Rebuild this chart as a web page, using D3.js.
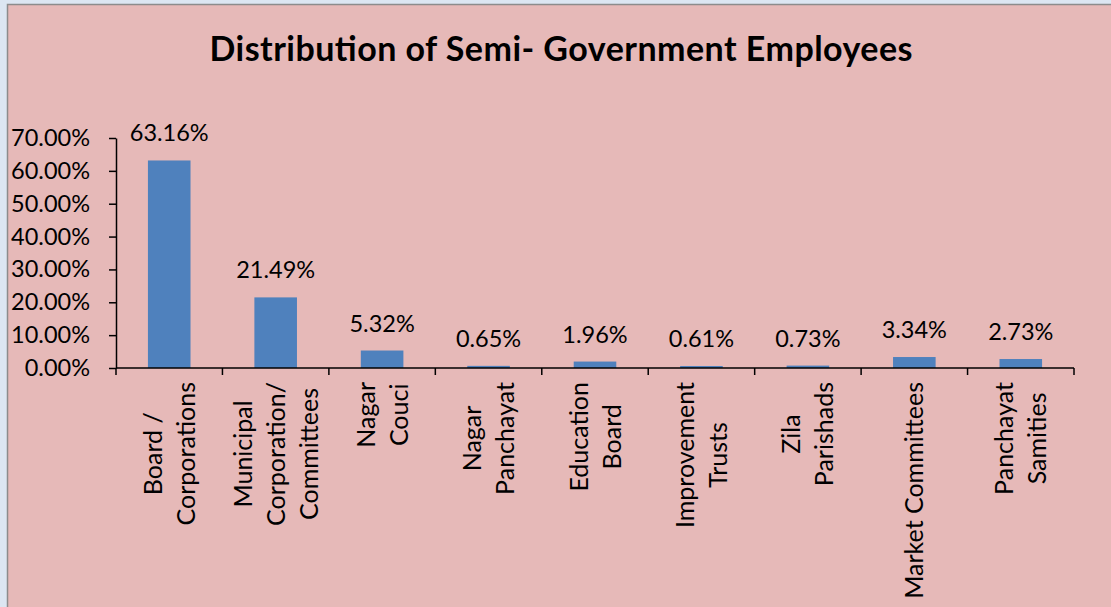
<!DOCTYPE html>
<html>
<head>
<meta charset="utf-8">
<script src="https://cdn.jsdelivr.net/npm/d3@7"></script>
<style>
  body { margin: 0; background: #dce6f2; }
  svg { display: block; font-family: Lato, "Open Sans", sans-serif; }
</style>
</head>
<body>
<svg width="1111" height="607"></svg>
<script>
// chart data
var categories = [
  ["Board /", "Corporations"],
  ["Municipal", "Corporation/", "Committees"],
  ["Nagar", "Couci"],
  ["Nagar", "Panchayat"],
  ["Education", "Board"],
  ["Improvement", "Trusts"],
  ["Zila", "Parishads"],
  ["Market Committees"],
  ["Panchayat", "Samities"]
];
var values = [0.6316, 0.2149, 0.0532, 0.0065, 0.0196, 0.0061, 0.0073, 0.0334, 0.0273];
var yTicks = [0, 0.1, 0.2, 0.3, 0.4, 0.5, 0.6, 0.7];
var title = "Distribution of Semi- Government Employees";

var svg = d3.select("svg"),
    margin = {left: 116, right: 37, top: 138, bottom: 239},
    width = 1111 - margin.left - margin.right,
    height = 607 - margin.top - margin.bottom;

var numSize = 23.5,  // tick + value labels
    catSize = 25;    // category labels

// pink chart panel
svg.append("rect")
    .attr("x", 7.5).attr("y", 4.5)
    .attr("width", 1120).attr("height", 620)
    .attr("fill", "#e6b9b8")
    .attr("stroke", "#8c8c8c")
    .attr("stroke-width", 1.5);

svg.append("text")
    .attr("x", 561).attr("y", 61)
    .attr("text-anchor", "middle")
    .attr("font-size", 34)
    .attr("font-weight", "bold")
    .attr("fill", "#000")
    .attr("textLength", 703)
    .attr("lengthAdjust", "spacing")
    .text(title);

var g = svg.append("g")
    .attr("transform", "translate(" + margin.left + "," + margin.top + ")");

var x = d3.scaleBand()
    .domain(d3.range(categories.length))
    .range([0, width])
    .paddingInner(0.6)
    .paddingOuter(0.3);

var y = d3.scaleLinear().domain([0, 0.7]).range([height, 0]);

// y axis
var yAxis = g.append("g")
    .call(d3.axisLeft(y).tickValues(yTicks).tickFormat(d3.format(".2%")).tickSize(7).tickSizeOuter(0));
yAxis.select(".domain").attr("stroke", "#000").attr("stroke-width", 1.5);
yAxis.selectAll(".tick line").attr("stroke", "#000").attr("stroke-width", 1.5);
yAxis.selectAll(".tick text")
    .attr("x", -26)
    .attr("font-size", numSize)
    .attr("font-family", "Lato, sans-serif")
    .attr("fill", "#000");

// bars
g.selectAll(".bar")
    .data(values)
    .enter().append("rect")
    .attr("class", "bar")
    .attr("x", function(d, i) { return x(i); })
    .attr("y", function(d) { return y(d); })
    .attr("width", x.bandwidth())
    .attr("height", function(d) { return height - y(d); })
    .attr("fill", "#4f81bd");

// value labels
g.selectAll(".val")
    .data(values)
    .enter().append("text")
    .attr("class", "val")
    .attr("x", function(d, i) { return x(i) + x.bandwidth() / 2; })
    .attr("y", function(d) { return y(d) - 19; })
    .attr("text-anchor", "middle")
    .attr("font-size", numSize)
    .attr("fill", "#000")
    .text(function(d) { return d3.format(".2%")(d); });

// x axis line + tick marks at category boundaries
g.append("line")
    .attr("x1", 0).attr("x2", width)
    .attr("y1", height).attr("y2", height)
    .attr("stroke", "#000").attr("stroke-width", 1.5);
g.selectAll(".xtick")
    .data(d3.range(categories.length + 1))
    .enter().append("line")
    .attr("x1", function(d) { return d * width / categories.length; })
    .attr("x2", function(d) { return d * width / categories.length; })
    .attr("y1", height).attr("y2", height + 7)
    .attr("stroke", "#000").attr("stroke-width", 1.5);

// rotated category labels
var lineGap = 33;
var labels = g.selectAll(".cat")
    .data(categories)
    .enter().append("g")
    .attr("class", "cat")
    .attr("transform", function(d, i) {
        return "translate(" + (x(i) + x.bandwidth() / 2) + "," + (height + 14) + ") rotate(-90)";
    });

labels.each(function(lines) {
    var grp = d3.select(this);
    var texts = grp.selectAll("text")
        .data(lines)
        .enter().append("text")
        .attr("text-anchor", "middle")
        .attr("font-size", catSize)
        .attr("fill", "#000")
        .attr("y", function(d, j) { return (j - (lines.length - 1) / 2) * lineGap + 9; })
        .text(function(d) { return d; });
    var maxLen = d3.max(texts.nodes(), function(n) { return n.getComputedTextLength(); });
    texts.attr("x", -maxLen / 2);
});
</script>
</body>
</html>
